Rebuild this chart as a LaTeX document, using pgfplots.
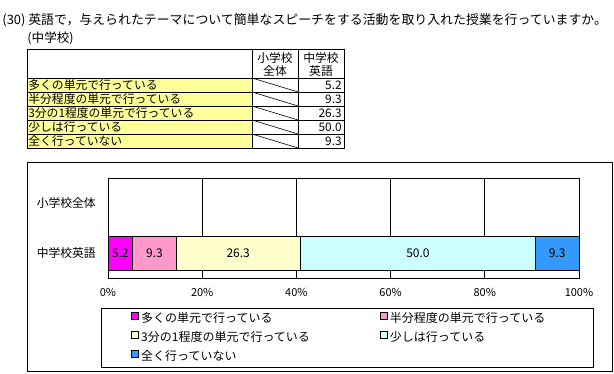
\documentclass[border=0pt]{standalone}
\usepackage{fontspec}
\setmainfont{Noto Sans CJK JP}
\usepackage{pgfplots}
\pgfplotsset{compat=1.18}
\definecolor{cA}{HTML}{FF00FF}
\definecolor{cB}{HTML}{FF99CC}
\definecolor{cC}{HTML}{FFFFCC}
\definecolor{cD}{HTML}{CCFFFF}
\definecolor{cE}{HTML}{3399FF}
\definecolor{tyel}{HTML}{FFFF99}
\pgfplotsset{sqlegend/.style={legend image code/.code={%
  \path (-30pt,0pt);
  \draw[##1, draw=black, line width=0.6pt] (0pt,0pt) rectangle (7pt,7pt);
  \path (9pt,0pt);}}}
\begin{document}
\begin{tikzpicture}[line width=0.8pt]
\useasboundingbox (0,0) rectangle (614pt,374pt);
\fill[white] (0,0) rectangle (614pt,374pt);
% title
\node[anchor=west, inner sep=0pt, font=\fontsize{12.9pt}{14pt}\selectfont] at (2pt,354pt) {(30) 英語で，与えられたテーマについて簡単なスピーチをする活動を取り入れた授業を行っていますか。};
\node[anchor=west, inner sep=0pt, font=\fontsize{12.6pt}{14pt}\selectfont] at (27pt,336pt) {(中学校)};
% table
\fill[tyel] (27pt,226pt) rectangle (252pt,296pt);
\draw (27pt,226pt) rectangle (344pt,325pt);
\draw (252pt,226pt) -- (252pt,325pt);
\draw (298pt,226pt) -- (298pt,325pt);
\foreach \yy in {296,282,268,254,240} {\draw (27pt,\yy pt) -- (344pt,\yy pt);}
\foreach \t/\b in {296/282,282/268,268/254,254/240,240/226} {\draw[line width=0.6pt] (252pt,\t pt) -- (298pt,\b pt);}
\begin{scope}[every node/.style={inner sep=0pt, font=\fontsize{11.8pt}{13pt}\selectfont}]
\node at (275pt,316pt) {小学校};
\node at (275pt,303pt) {全体};
\node at (321pt,316pt) {中学校};
\node at (321pt,303pt) {英語};
\node[anchor=west] at (28pt,289pt) {多くの単元で行っている};
\node[anchor=west] at (28pt,275pt) {半分程度の単元で行っている};
\node[anchor=west] at (28pt,261pt) {3分の1程度の単元で行っている};
\node[anchor=west] at (28pt,247pt) {少しは行っている};
\node[anchor=west] at (28pt,233pt) {全く行っていない};
\node[anchor=east] at (342pt,289pt) {5.2};
\node[anchor=east] at (342pt,275pt) {9.3};
\node[anchor=east] at (342pt,261pt) {26.3};
\node[anchor=east] at (342pt,247pt) {50.0};
\node[anchor=east] at (342pt,233pt) {9.3};
\end{scope}
% chart frame
\draw (27pt,3pt) rectangle (612pt,212pt);
\begin{axis}[
  at={(108pt,96pt)}, anchor=south west,
  scale only axis, width=471pt, height=100pt,
  xbar stacked, bar width=34pt,
  xmin=0, xmax=100, ymin=-0.5, ymax=1.5,
  ytick={0,1}, yticklabels={中学校英語,小学校全体},
  xtick={0,20,40,60,80,100},
  xticklabels={0\%,20\%,40\%,60\%,80\%,100\%},
  xmajorgrids, grid style={black, line width=0.8pt},
  axis line style={line width=0.8pt},
  major tick length=0pt,
  yticklabel style={inner sep=0pt, xshift=-12pt, font=\fontsize{11.8pt}{13pt}\selectfont},
  xticklabel style={inner sep=0pt, yshift=-10pt, font=\fontsize{11pt}{12pt}\selectfont},
  legend columns=2,
  legend style={at={(-0.01486,-0.3)}, anchor=north west, draw=black, line width=0.8pt,
    inner xsep=0pt, inner ysep=3.5pt, column sep=0pt, row sep=6pt,
    font=\fontsize{12pt}{14pt}\selectfont,
    nodes={inner sep=0pt, text height=9pt, text depth=3pt}},
  legend cell align=left,
]
\addplot[fill=cA, draw=black, line width=0.8pt, sqlegend] coordinates {(5.2,0)};
\addlegendentry{\makebox[209pt][l]{多くの単元で行っている}}
\addplot[fill=cB, draw=black, line width=0.8pt, sqlegend] coordinates {(9.3,0)};
\addlegendentry{\makebox[203pt][l]{半分程度の単元で行っている}}
\addplot[fill=cC, draw=black, line width=0.8pt, sqlegend] coordinates {(26.3,0)};
\addlegendentry{\makebox[209pt][l]{3分の1程度の単元で行っている}}
\addplot[fill=cD, draw=black, line width=0.8pt, sqlegend] coordinates {(50.0,0)};
\addlegendentry{\makebox[203pt][l]{少しは行っている}}
\addplot[fill=cE, draw=black, line width=0.8pt, sqlegend] coordinates {(9.3,0)};
\addlegendentry{\makebox[209pt][l]{全く行っていない}}
\end{axis}
\begin{axis}[
  at={(108pt,96pt)}, anchor=south west,
  scale only axis, width=471pt, height=100pt,
  xmin=0, xmax=100, ymin=-0.5, ymax=1.5, hide axis,
]
\addplot[draw=none, mark=none, nodes near coords, point meta=explicit symbolic,
  every node near coord/.append style={anchor=center, inner sep=0pt, font=\fontsize{12pt}{14pt}\selectfont}]
  table[meta=lab] {
x y lab
2.6 0 5.2
9.85 0 9.3
27.65 0 26.3
65.8 0 50.0
95.35 0 9.3
};
\end{axis}
\end{tikzpicture}
\end{document}
